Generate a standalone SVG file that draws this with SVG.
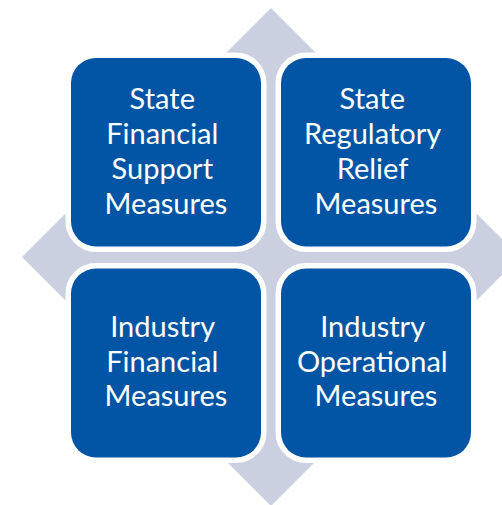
<svg xmlns="http://www.w3.org/2000/svg" width="502" height="505" viewBox="0 0 502 505">
  <style>
    .box { fill: #0255A4; stroke: #FFFFFF; stroke-width: 11; paint-order: stroke fill; }
    .label { fill: #FFFFFF; font-family: Lato, "Liberation Sans", sans-serif; font-size: 29px; text-anchor: middle; }
  </style>
  <rect width="502" height="505" fill="#FFFFFF"/>

  <!-- background diamond -->
  <g id="backdrop">
    <polygon points="271,8 520,257 271,506 22,257" fill="#CBD0E1"/>
  </g>

  <g id="state-financial">
    <rect class="box" x="71" y="58" width="190" height="188.5" rx="25" ry="25"/>
    <text class="label">
      <tspan x="166" y="109">State</tspan>
      <tspan x="166" y="144">Financial</tspan>
      <tspan x="166" y="179">Support</tspan>
      <tspan x="166" y="213.5">Measures</tspan>
    </text>
  </g>

  <g id="state-regulatory">
    <rect class="box" x="281" y="58" width="190" height="188.5" rx="25" ry="25"/>
    <text class="label">
      <tspan x="376" y="109">State</tspan>
      <tspan x="376" y="144">Regulatory</tspan>
      <tspan x="376" y="179">Relief</tspan>
      <tspan x="376" y="213.5">Measures</tspan>
    </text>
  </g>

  <g id="industry-financial">
    <rect class="box" x="71" y="268.5" width="190" height="189" rx="25" ry="25"/>
    <text class="label">
      <tspan x="166" y="336.5">Industry</tspan>
      <tspan x="166" y="371.5">Financial</tspan>
      <tspan x="166" y="406">Measures</tspan>
    </text>
  </g>

  <g id="industry-operational">
    <rect class="box" x="281" y="268.5" width="190" height="189" rx="25" ry="25"/>
    <text class="label">
      <tspan x="376" y="336.5">Industry</tspan>
      <tspan x="376" y="371.5">Operational</tspan>
      <tspan x="376" y="406">Measures</tspan>
    </text>
  </g>

  <g id="connectors"></g>
</svg>
